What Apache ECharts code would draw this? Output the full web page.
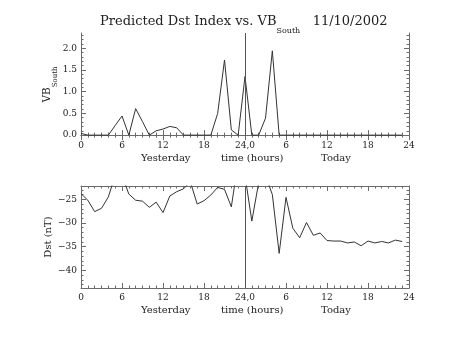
<!DOCTYPE html>
<html><head><meta charset="utf-8">
<script src="https://cdn.jsdelivr.net/npm/echarts@6/dist/echarts.min.js"></script>
<style>html,body{margin:0;padding:0;background:#fff}#c{width:453px;height:340px}</style>
</head><body><div id="c"></div>
<script>
// ---- data ----
const hours = [0,1,2,3,4,5,6,7,8,9,10,11,12,13,14,15,16,17,18,19,20,21,22,23,
               24,25,26,27,28,29,30,31,32,33,34,35,36,37,38,39,40,41,42,43,44,45,46,47];
const vbSouth = [0.04,0,0,0,0,0.22,0.44,0,0.61,0.31,0,0.1,0.14,0.2,0.17,0,0,0,0,0,0.5,1.73,0.12,0,
                 1.35,0,0,0.39,1.94,0,0,0,0,0,0,0,0,0,0,0,0,0,0,0,0,0,0,0];
const dst = [-23.8,-25.2,-27.6,-26.9,-24.5,-20,-20,-23.9,-25.2,-25.4,-26.7,-25.6,-27.8,-24.3,-23.4,-22.8,-21.3,-26.0,-25.3,-24.1,-22.5,-22.9,-26.6,-17,
             -20,-29.6,-21.5,-20,-24.0,-36.4,-24.6,-31.1,-33.1,-29.9,-32.6,-32.1,-33.7,-33.8,-33.8,-34.2,-34.0,-34.8,-33.8,-34.2,-33.9,-34.2,-33.6,-33.9];
const xTicks = [0,6,12,18,24,30,36,42,48];
const xTickLabels = ['0','6','12','18','24,0','6','12','18','24'];
const vbTicks = [0,0.5,1,1.5,2];
const vbTickLabels = ['0.0','0.5','1.0','1.5','2.0'];
const vbMinor = [0,0.1,0.2,0.3,0.4,0.5,0.6,0.7,0.8,0.9,1.0,1.1,1.2,1.3,1.4,1.5,1.6,1.7,1.8,1.9,2.0,2.1,2.2,2.3];
const dstTicks = [-40,-35,-30,-25];
const dstTickLabels = ['\u221240','\u221235','\u221230','\u221225'];
const dstMinor = [-43,-42,-41,-40,-39,-38,-37,-36,-35,-34,-33,-32,-31,-30,-29,-28,-27,-26,-25,-24,-23];
const titleMain = 'Predicted Dst Index vs. VB';
const titleSub = 'South';
const titleDate = '11/10/2002';
const xNames = ['Yesterday','time (hours)','Today'];

// ---- styling ----
const FONT = 'DejaVu Serif';
const TXT = '#222';
const AX = '#6a6a6a';
const LINE = '#333';

function xAxes(g) {
  const common = {
    gridIndex: g, type: 'value', min: 0, max: 48, interval: 6,
    axisLine: {show: true, lineStyle: {color: AX, width: 1}},
    axisTick: {show: true, inside: true, length: 5, lineStyle: {color: AX}},
    minorTick: {show: true, splitNumber: 6, length: 2.5, lineStyle: {color: AX}},
    splitLine: {show: false}, minorSplitLine: {show: false}
  };
  return [
    Object.assign({}, common, {
      position: 'bottom',
      axisLabel: {margin: 5, fontFamily: FONT, fontSize: 9, color: TXT,
        formatter: v => xTickLabels[xTicks.indexOf(v)]}
    }),
    Object.assign({}, common, {position: 'top', axisLabel: {show: false}})
  ];
}

function yAxes(g, min, max, ticks, labels, minor, name, gap) {
  const base = {gridIndex: g, type: 'value', min: min, max: max, splitLine: {show: false}};
  return [
    Object.assign({}, base, {
      position: 'left',
      axisLine: {show: true, lineStyle: {color: AX}},
      axisTick: {show: true, inside: true, length: 5, customValues: ticks, lineStyle: {color: AX}},
      axisLabel: {customValues: ticks, margin: 4, fontFamily: FONT, fontSize: 9, color: TXT,
        formatter: v => labels[ticks.indexOf(v)]},
      name: name, nameLocation: 'middle', nameRotate: 90, nameGap: gap, nameMoveOverlap: false,
      nameTextStyle: {fontFamily: FONT, fontSize: 10, color: TXT,
        rich: {m: {fontFamily: FONT, fontSize: 10.5, color: TXT, verticalAlign: 'top'},
               s: {fontFamily: FONT, fontSize: 7, color: TXT, verticalAlign: 'top', padding: [10,0,0,0]}}}
    }),
    Object.assign({}, base, {
      position: 'left', axisLine: {show: false},
      axisTick: {show: true, inside: true, length: 2.5, customValues: minor, lineStyle: {color: AX}},
      axisLabel: {show: false}
    }),
    Object.assign({}, base, {
      position: 'right',
      axisLine: {show: true, lineStyle: {color: AX}},
      axisTick: {show: true, inside: true, length: 5, customValues: ticks, lineStyle: {color: AX}},
      axisLabel: {show: false}
    }),
    Object.assign({}, base, {
      position: 'right', axisLine: {show: false},
      axisTick: {show: true, inside: true, length: 2.5, customValues: minor, lineStyle: {color: AX}},
      axisLabel: {show: false}
    })
  ];
}

const vline = {
  symbol: 'none', silent: true, label: {show: false},
  lineStyle: {color: '#555', width: 1, type: 'solid'},
  data: [{xAxis: 24}]
};

// bottom-row captions under each panel (text only)
const captionX = [141, 221, 321];
const captionY = [153, 305];
const graphics = [];
captionY.forEach(y => {
  xNames.forEach((t, i) => {
    graphics.push({type: 'text', left: captionX[i], top: y, silent: true,
      style: {text: t, fontFamily: FONT, fontSize: 10, fill: TXT}});
  });
});

const chart = echarts.init(document.getElementById('c'), null, {renderer: 'canvas'});
chart.setOption({
  animation: false,
  backgroundColor: '#fff',
  title: {
    text: '{m|' + titleMain + '}{s|' + titleSub + '}{m|   ' + titleDate + '}',
    left: 100, top: 15, padding: 0,
    textStyle: {fontFamily: FONT, fontSize: 13, color: TXT, fontWeight: 'normal',
      rich: {m: {fontFamily: FONT, fontSize: 13, color: TXT, verticalAlign: 'top'},
             s: {fontFamily: FONT, fontSize: 8, color: TXT, verticalAlign: 'top', padding: [12,0,0,0]}}}
  },
  graphic: graphics,
  grid: [
    {left: 81, width: 328, top: 33, height: 103},
    {left: 81, width: 328, top: 186, height: 102}
  ],
  xAxis: [].concat(xAxes(0), xAxes(1)),
  yAxis: [].concat(
    yAxes(0, -0.02, 2.35, vbTicks, vbTickLabels, vbMinor, '{m|VB}{s|South}', 22),
    yAxes(1, -43.7, -22.2, dstTicks, dstTickLabels, dstMinor, 'Dst (nT)', 28)
  ),
  series: [
    {type: 'line', xAxisIndex: 0, yAxisIndex: 0, clip: true, symbol: 'none',
     lineStyle: {color: LINE, width: 1}, data: hours.map((h, i) => [h, vbSouth[i]]), markLine: vline},
    {type: 'line', xAxisIndex: 2, yAxisIndex: 4, clip: true, symbol: 'none',
     lineStyle: {color: LINE, width: 1}, data: hours.map((h, i) => [h, dst[i]]), markLine: vline}
  ]
});
</script></body></html>
